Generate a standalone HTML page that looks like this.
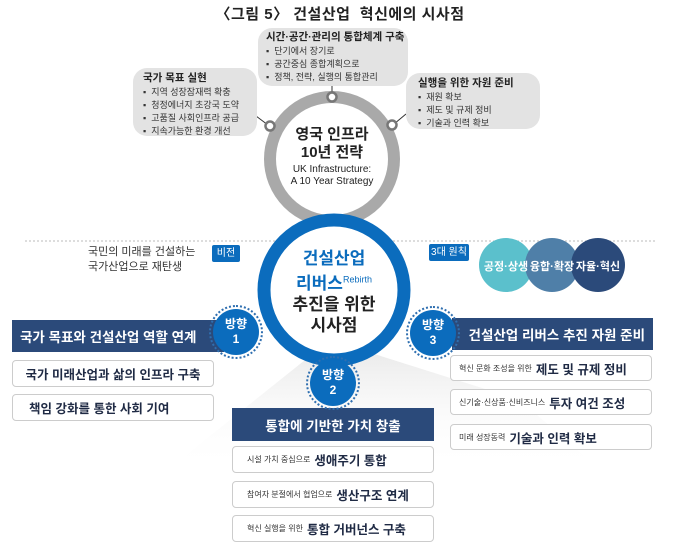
<!DOCTYPE html>
<html><head><meta charset="utf-8"><style>
*{margin:0;padding:0;box-sizing:border-box}
body{width:680px;height:556px;background:#fff;position:relative;overflow:hidden;font-family:"Liberation Sans","Noto Sans CJK KR",sans-serif;color:#222}
.a{position:absolute}
.bub{position:absolute;background:#e3e3e3;border-radius:14px;font-size:9px;line-height:13px;color:#333;white-space:nowrap}
.bub b{font-size:10.5px;display:block;color:#222;margin-bottom:1px}
.bar{position:absolute;background:#2b4a7a;color:#fff;font-size:13.5px;font-weight:bold;display:flex;align-items:center;justify-content:center;white-space:nowrap}
.box{position:absolute;background:#fff;border:1px solid #ccc;border-radius:4px;font-weight:bold;display:flex;align-items:center;font-size:12.5px;color:#1f2a44;white-space:nowrap}
.box small{font-size:8px;font-weight:normal;margin-right:4px;color:#333}
.dir{position:absolute;width:46px;height:46px;border-radius:50%;background:#0b6cbd;color:#fff;font-size:12px;font-weight:bold;text-align:center;line-height:15px;padding-top:8px;outline:2px dotted #2f6fb0;outline-offset:2px}
</style></head><body>
<div class="a" style="left:0;width:680px;top:3px;text-align:center;font-size:15px;font-weight:bold;letter-spacing:0.5px">〈그림 5〉 건설산업&nbsp; 혁신에의 시사점</div>

<svg class="a" style="left:0;top:0" width="680" height="556">
<defs><linearGradient id="g" x1="0" y1="0" x2="0" y2="1"><stop offset="0" stop-color="#e6e6e6"/><stop offset="1" stop-color="#fff" stop-opacity="0"/></linearGradient></defs>
<polygon points="180,460 330,340 520,400 600,470" fill="url(#g)"/>
<line x1="25" y1="241" x2="655" y2="241" stroke="#bbb" stroke-dasharray="2,2"/>
<circle cx="332" cy="159" r="62" fill="none" stroke="#a9a9a9" stroke-width="12"/>
<line x1="332" y1="86" x2="332" y2="96" stroke="#333"/>
<line x1="256" y1="116" x2="268" y2="125" stroke="#333"/>
<line x1="406" y1="114" x2="394" y2="124" stroke="#333"/>
<circle cx="332" cy="97" r="4.5" fill="#fff" stroke="#777" stroke-width="2.5"/>
<circle cx="270" cy="126" r="4.5" fill="#fff" stroke="#777" stroke-width="2.5"/>
<circle cx="392" cy="125" r="4.5" fill="#fff" stroke="#777" stroke-width="2.5"/>
<circle cx="334" cy="290" r="70" fill="#fff" stroke="#0b6cbd" stroke-width="13"/>
<circle cx="506" cy="265" r="27" fill="#5bc0cc"/>
<circle cx="552" cy="265" r="27" fill="#4f7fa8"/>
<circle cx="598" cy="265" r="27" fill="#2b4a7a"/>
</svg>

<div class="bub" style="left:258px;top:28px;width:150px;height:58px;padding:3px 8px"><b>시간·공간·관리의 통합체계 구축</b>▪&nbsp; 단기에서 장기로<br>▪&nbsp; 공간중심 종합계획으로<br>▪&nbsp; 정책, 전략, 실행의 통합관리</div>
<div class="bub" style="left:133px;top:68px;width:124px;height:68px;padding:4px 10px"><b>국가 목표 실현</b>▪&nbsp; 지역 성장잠재력 확충<br>▪&nbsp; 청정에너지 초강국 도약<br>▪&nbsp; 고품질 사회인프라 공급<br>▪&nbsp; 지속가능한 환경 개선</div>
<div class="bub" style="left:406px;top:73px;width:134px;height:56px;padding:4px 12px"><b>실행을 위한 자원 준비</b>▪&nbsp; 재원 확보<br>▪&nbsp; 제도 및 규제 정비<br>▪&nbsp; 기술과 인력 확보</div>

<div class="a" style="left:276px;top:126px;width:112px;text-align:center;font-weight:bold;font-size:15px;line-height:18px">영국 인프라<br>10년 전략<div style="font-size:10px;font-weight:normal;line-height:12px;margin-top:2px">UK Infrastructure:<br>A 10 Year Strategy</div></div>

<div class="a" style="left:264px;top:248px;width:140px;text-align:center;font-weight:bold;font-size:17px;line-height:21px"><span style="color:#0b6cbd">건설산업<br>리버스<sup style="font-size:9px;font-weight:normal">Rebirth</sup></span><br>추진을 위한<br>시사점</div>

<div class="a" style="left:88px;top:245px;font-size:11px;line-height:15px;color:#333">국민의 미래를 건설하는<br>국가산업으로 재탄생</div>
<div class="a" style="left:212px;top:245px;width:28px;height:17px;background:#0b6cbd;color:#fff;font-size:10px;text-align:center;line-height:17px;border-radius:2px">비전</div>
<div class="a" style="left:429px;top:244px;width:40px;height:17px;background:#0b6cbd;color:#fff;font-size:10px;text-align:center;line-height:17px;border-radius:2px">3대 원칙</div>
<div class="a" style="left:478px;top:258px;width:56px;text-align:center;color:#fff;font-size:11px;font-weight:bold">공정·상생</div>
<div class="a" style="left:524px;top:258px;width:56px;text-align:center;color:#fff;font-size:11px;font-weight:bold">융합·확장</div>
<div class="a" style="left:570px;top:258px;width:56px;text-align:center;color:#fff;font-size:11px;font-weight:bold">자율·혁신</div>

<div class="bar" style="left:12px;top:320px;width:212px;height:32px;justify-content:flex-start;padding-left:8px">국가 목표와 건설산업 역할 연계</div>
<div class="box" style="left:12px;top:360px;width:202px;height:27px;justify-content:center">국가 미래산업과 삶의 인프라 구축</div>
<div class="box" style="left:12px;top:394px;width:202px;height:27px;padding-left:16px">책임 강화를 통한 사회 기여</div>

<div class="bar" style="left:452px;top:318px;width:201px;height:32px;justify-content:flex-end;padding-right:8px">건설산업 리버스 추진 자원 준비</div>
<div class="box" style="left:450px;top:355px;width:202px;height:26px;padding-left:8px"><small>혁신 문화 조성을 위한</small>제도 및 규제 정비</div>
<div class="box" style="left:450px;top:389px;width:202px;height:26px;padding-left:8px"><small>신기술·신상품·신비즈니스</small>투자 여건 조성</div>
<div class="box" style="left:450px;top:424px;width:202px;height:26px;padding-left:8px"><small>미래 성장동력</small>기술과 인력 확보</div>

<div class="bar" style="left:232px;top:408px;width:202px;height:33px">통합에 기반한 가치 창출</div>
<div class="box" style="left:232px;top:446px;width:202px;height:27px;padding-left:14px"><small>시설 가치 중심으로</small>생애주기 통합</div>
<div class="box" style="left:232px;top:481px;width:202px;height:27px;padding-left:14px"><small>참여자 분절에서 협업으로</small>생산구조 연계</div>
<div class="box" style="left:232px;top:515px;width:202px;height:27px;padding-left:14px"><small>혁신 실행을 위한</small>통합 거버넌스 구축</div>

<div class="dir" style="left:213px;top:309px">방향<br>1</div>
<div class="dir" style="left:410px;top:310px">방향<br>3</div>
<div class="dir" style="left:310px;top:360px">방향<br>2</div>
</body></html>
